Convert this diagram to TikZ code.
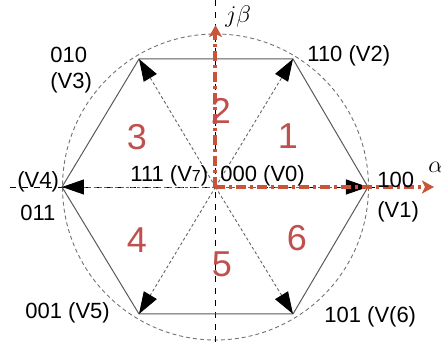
\documentclass[tikz,border=0pt]{standalone}
\usepackage{fontspec}
\setmainfont{Liberation Sans}
\usetikzlibrary{arrows.meta}
\definecolor{cSect}{RGB}{192,80,77}
\definecolor{cAxis}{RGB}{200,84,58}
\tikzset{
  hexedge/.style={draw=black!65,line width=0.5pt},
  spoke/.style={draw=black!60,dash pattern=on 1.5pt off 1.2pt,line width=0.45pt,
                -{Triangle[length=11pt,width=7.5pt,black]}},
  axisln/.style={draw=black,dashed,line width=0.45pt},
  bound/.style={draw=black!55,dash pattern=on 2pt off 1.5pt,line width=0.45pt},
  raxis/.style={draw=cAxis,line width=2pt,
                dash pattern=on 5pt off 2pt on 1.5pt off 2pt,
                -{Stealth[length=6pt,width=6.5pt,inset=1.5pt]}},
  vlab/.style={font=\fontsize{11}{13}\selectfont,inner sep=0pt,anchor=base west},
  sect/.style={font=\fontsize{18}{20}\selectfont,text=cSect,inner sep=0pt},
}

\begin{document}
\begin{tikzpicture}[x=0.5pt,y=-0.5pt]
  \useasboundingbox (0,0) rectangle (441,346);
  \coordinate (O)  at (215.5,187);
  \coordinate (V1) at (368,187);
  \coordinate (V2) at (293,59);
  \coordinate (V3) at (139,59);
  \coordinate (V4) at (62,187);
  \coordinate (V5) at (139,314);
  \coordinate (V6) at (293,314);

  \draw[bound] (O) circle[radius=153];
  \coordinate (xl) at (10,187);  \coordinate (xr) at (375,187);
  \coordinate (yt) at (215.5,0); \coordinate (yb) at (215.5,346);
  \draw[axisln] (xl) -- (xr);
  \draw[axisln] (yt) -- (yb);

  \draw[hexedge] (V1) -- (V2) -- (V3) -- (V4) -- (V5) -- (V6) -- cycle;
  \foreach \v in {V1,V2,V3,V4,V5,V6}
    \draw[spoke] (O) -- (\v);

  % alpha / j beta axes
  \coordinate (ya) at (215.5,25);
  \coordinate (xa) at (434,187);
  \draw[raxis] (O) -- (ya);
  \draw[raxis] (O) -- (xa);
  \node[inner sep=0pt,anchor=base west,font=\fontsize{12}{14}\selectfont] (lb) at (225,23) {$j\beta$};
  \node[inner sep=0pt,anchor=base west,font=\fontsize{12}{14}\selectfont] (la) at (428,173) {$\alpha$};

  \node[vlab] (l3a) at (50,63)   {010};
  \node[vlab] (l3b) at (50,89)   {(V3)};
  \node[vlab] (l2)  at (307,62)  {110 (V2)};
  \node[vlab] (l1a) at (377,188) {100};
  \node[vlab] (l1b) at (377,218) {(V1)};
  \node[vlab] (l4a) at (17,188)  {(V4)};
  \node[vlab] (l4b) at (20,221)  {011};
  \node[vlab] (l5)  at (25,319)  {001 (V5)};
  \node[vlab] (l6)  at (324,323) {101 (V(6)};
  \node[vlab] (l7)  at (130,182) {111 (V{\fontsize{8}{9}\selectfont 7})};
  \node[vlab] (l0)  at (220,182) {000 (V0)};

  \node[sect] (s1) at (288,136)   {1};
  \node[sect] (s2) at (221,110.5) {2};
  \node[sect] (s3) at (137,137)   {3};
  \node[sect] (s4) at (137,240)   {4};
  \node[sect] (s5) at (222,264.5) {5};
  \node[sect] (s6) at (297,238)   {6};
\end{tikzpicture}
\end{document}
